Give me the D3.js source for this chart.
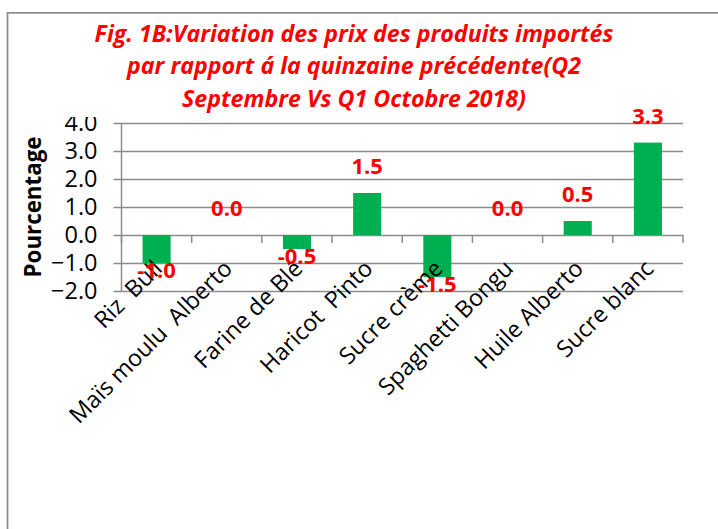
<!DOCTYPE html>
<html>
<head>
<meta charset="utf-8">
<script src="https://cdn.jsdelivr.net/npm/d3@7"></script>
<style>
  body { margin: 0; background: #fff; }
  text { font-family: "Open Sans", "Liberation Sans", sans-serif; }
</style>
</head>
<body>
<div id="chart"></div>
<script>
var categories = ["Riz  Bull", "Maïs moulu  Alberto", "Farine de Blé", "Haricot  Pinto",
                  "Sucre crème", "Spaghetti Bongu", "Huile Alberto", "Sucre blanc"];
var values = [-1.0, 0.0, -0.5, 1.5, -1.5, 0.0, 0.5, 3.3];
var yTicks = [-2, -1, 0, 1, 2, 3, 4];
var titleLines = ["Fig. 1B:Variation des prix des produits importés",
                  "par rapport á la quinzaine précédente(Q2",
                  "Septembre Vs Q1 Octobre 2018)"];

var width = 718, height = 529;
var plotLeft = 121.5, plotRight = 683, plotTop = 123, plotBottom = 291;

var svg = d3.select("#chart")
            .append("svg")
            .attr("width", width)
            .attr("height", height);

// outer frame (only top and left edges are visible in the crop)
svg.append("path")
    .attr("d", "M7.5," + height + "V12.75H" + width)
    .attr("fill", "none")
    .attr("stroke", "#8c8c8c")
    .attr("stroke-width", 1.75);

var x = d3.scaleBand()
            .domain(categories)
            .range([plotLeft, plotRight])
            .paddingInner(0.6)
            .paddingOuter(0.3);

var step = (plotRight - plotLeft) / categories.length;

var y = d3.scaleLinear()
            .domain([-2, 4])
            .range([plotBottom, plotTop]);

// y axis with gridlines
var yAxis = svg.append("g")
    .attr("transform", "translate(" + plotLeft + ",0)")
    .call(d3.axisLeft(y).tickValues(yTicks).tickFormat(d3.format(".1f"))
            .tickSize(-(plotRight - plotLeft)).tickSizeOuter(0).tickPadding(24));
yAxis.select(".domain").remove();
yAxis.selectAll("line")
    .attr("x1", -8)
    .attr("stroke", "#8c8c8c")
    .attr("stroke-width", 1.5);
yAxis.selectAll("text")
    .attr("fill", "#000")
    .style("font-size", "23.5px");

// vertical axis line
svg.append("line")
    .attr("x1", plotLeft).attr("x2", plotLeft)
    .attr("y1", plotTop).attr("y2", plotBottom)
    .attr("stroke", "#8c8c8c")
    .attr("stroke-width", 1.5);

// category tick marks on the zero line
var boundaries = d3.range(categories.length + 1);
svg.append("g")
    .selectAll("line")
    .data(boundaries)
    .enter()
    .append("line")
    .attr("x1", (d) => plotLeft + d * step)
    .attr("x2", (d) => plotLeft + d * step)
    .attr("y1", y(0))
    .attr("y2", y(0) + 8)
    .attr("stroke", "#8c8c8c")
    .attr("stroke-width", 1.5);

// bars
svg.append("g")
    .selectAll("rect")
    .data(values)
    .enter()
    .append("rect")
    .attr("x", (d, i) => x(categories[i]))
    .attr("width", x.bandwidth())
    .attr("y", (d) => y(Math.max(0, d)))
    .attr("height", (d) => Math.abs(y(d) - y(0)))
    .attr("fill", "#00b050");

// title (its white box hides the top of the 4.0 label, as in the original)
svg.append("rect")
    .attr("x", 60).attr("y", 16)
    .attr("width", 570).attr("height", 101)
    .attr("fill", "#fff");

svg.append("g")
    .selectAll("text")
    .data(titleLines)
    .enter()
    .append("text")
    .attr("x", 354)
    .attr("y", (d, i) => 41.5 + i * 32.5)
    .attr("text-anchor", "middle")
    .attr("fill", "#ff0000")
    .style("font-size", "23.2px")
    .style("font-weight", "bold")
    .style("font-style", "italic")
    .text((d) => d);

// axis title
svg.append("text")
    .attr("transform", "translate(41,207) rotate(-90)")
    .attr("text-anchor", "middle")
    .style("font-size", "22.3px")
    .style("font-weight", "bold")
    .text("Pourcentage");

// category labels
svg.append("g")
    .selectAll("text")
    .data(categories)
    .enter()
    .append("text")
    .attr("transform", (d) => "translate(" + (x(d) + x.bandwidth() / 2 + 7) + ",270) rotate(-45)")
    .attr("text-anchor", "end")
    .attr("xml:space", "preserve")
    .style("font-size", "23.3px")
    .style("white-space", "pre")
    .text((d) => d);

// data labels
svg.append("g")
    .selectAll("text")
    .data(values)
    .enter()
    .append("text")
    .attr("x", (d, i) => x(categories[i]) + x.bandwidth() / 2)
    .attr("y", (d) => d < 0 ? y(d) + 7 : y(d) - 27)
    .attr("dy", "0.36em")
    .attr("text-anchor", "middle")
    .attr("fill", "#ff0000")
    .style("font-size", "22px")
    .style("font-weight", "bold")
    .text((d) => d.toFixed(1));
</script>
</body>
</html>
